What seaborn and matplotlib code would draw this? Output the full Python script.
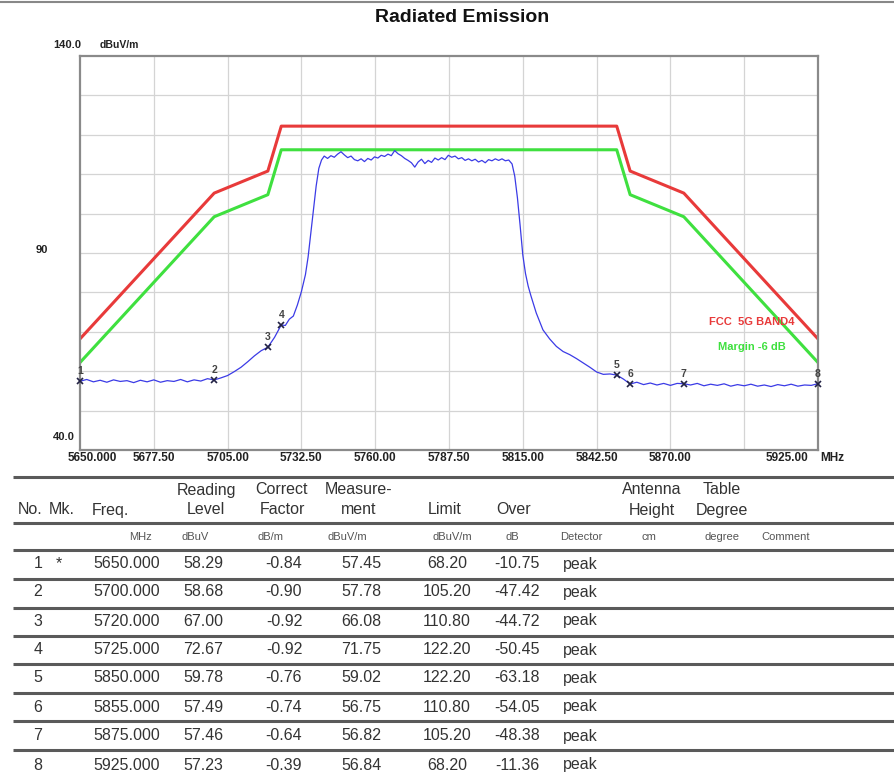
"""Radiated emission plot with marker table."""

import matplotlib
matplotlib.use('Agg')
import matplotlib.pyplot as plt
import seaborn as sns

trace_freq = [5650, 5652.5, 5655, 5657.5, 5660, 5662.5, 5665, 5667.5, 5670, 5672.5,
              5675, 5677.5, 5680, 5682.5, 5685, 5687.5, 5690, 5692.5, 5695, 5697.5,
              5700, 5702.5, 5705, 5707.5, 5710, 5712.5, 5715, 5717.5, 5720, 5722.5,
              5725, 5726.5, 5728, 5729.5, 5731, 5732.5, 5734, 5735, 5736, 5737,
              5738, 5739, 5740,
              5741, 5742.25, 5743.5, 5744.75, 5746, 5747.25, 5748.5, 5749.75, 5751, 5752.25,
              5753.5, 5754.75, 5756, 5757.25, 5758.5, 5759.75, 5761, 5762.25, 5763.5, 5764.75,
              5766, 5767.25, 5768.5, 5769.75, 5771, 5772.25, 5773.5, 5774.75, 5776, 5777.25,
              5778.5, 5779.75, 5781, 5782.25, 5783.5, 5784.75, 5786, 5787.25, 5788.5, 5789.75,
              5791, 5792.25, 5793.5, 5794.75, 5796, 5797.25, 5798.5, 5799.75, 5801, 5802.25,
              5803.5, 5804.75, 5806, 5807.25, 5808.5, 5809.75, 5811,
              5812, 5813, 5814, 5815, 5816, 5817, 5818, 5819, 5820,
              5822.5, 5825, 5827.5, 5830, 5832.5, 5835, 5837.5, 5840, 5842.5, 5845,
              5847.5, 5850, 5852.5, 5855, 5857.5, 5860, 5862.5, 5865, 5867.5, 5870,
              5872.5, 5875, 5877.5, 5880, 5882.5, 5885, 5887.5, 5890, 5892.5, 5895,
              5897.5, 5900, 5902.5, 5905, 5907.5, 5910, 5912.5, 5915, 5917.5, 5920,
              5922.5, 5925]
trace_level = [57.45, 57.9, 57.3, 57.7, 57.2, 57.8, 57.4, 57.6, 57.1, 57.7,
               57.3, 57.8, 57.2, 57.6, 57.4, 57.9, 57.3, 57.8, 57.5, 58.1,
               57.78, 58.3, 58.9, 59.9, 61.0, 62.4, 63.9, 65.2, 66.08, 68.6,
               71.75, 71.6, 73.2, 74.0, 76.8, 80.2, 84.5, 89.0, 95.0, 101.0,
               107.0, 111.5, 113.6,
               114.6, 114.0, 114.7, 114.3, 115.1, 115.7, 114.9, 114.2, 114.6, 113.7,
               113.4, 113.9, 113.2, 114.0, 113.6, 114.4, 114.1, 114.8, 114.5, 115.1,
               114.7, 116.0, 115.2, 114.7, 114.0, 113.5, 112.9, 111.8, 113.1, 113.8,
               112.7, 113.5, 113.0, 114.1, 113.6, 114.2, 113.7, 114.8, 114.3, 114.6,
               113.9, 114.2, 113.5, 113.9, 113.4, 113.8, 113.1, 113.5, 112.9, 113.7,
               113.4, 113.9, 113.5, 113.9, 113.4, 113.6, 112.6,
               109.5, 104.0, 97.0, 89.5, 84.8, 81.6, 79.2, 77.0, 74.8,
               70.5, 68.2, 66.3, 65.0, 64.2, 63.2, 62.1, 61.0, 59.8, 59.2,
               59.3, 59.02, 58.0, 56.75, 57.2, 56.6, 57.0, 56.5, 56.9, 56.4,
               56.9, 56.82, 56.5, 56.9, 56.3, 56.7, 56.4, 56.8, 56.2, 56.6,
               56.3, 56.7, 56.2, 56.5, 56.1, 56.6, 56.3, 56.7, 56.2, 56.5,
               56.4, 56.84]

# --- limit lines ---
limit_freq = [5650, 5700, 5720, 5725, 5850, 5855, 5875, 5925]
limit_level = [68.2, 105.2, 110.8, 122.2, 122.2, 110.8, 105.2, 68.2]
margin_level = [62.2, 99.2, 104.8, 116.2, 116.2, 104.8, 99.2, 62.2]

# --- marker table ---
mk_no = [1, 2, 3, 4, 5, 6, 7, 8]
mk_flag = ['*', '', '', '', '', '', '', '']
mk_freq = [5650.000, 5700.000, 5720.000, 5725.000, 5850.000, 5855.000, 5875.000, 5925.000]
mk_reading = [58.29, 58.68, 67.00, 72.67, 59.78, 57.49, 57.46, 57.23]
mk_factor = [-0.84, -0.90, -0.92, -0.92, -0.76, -0.74, -0.64, -0.39]
mk_meas = [57.45, 57.78, 66.08, 71.75, 59.02, 56.75, 56.82, 56.84]
mk_limit = [68.20, 105.20, 110.80, 122.20, 122.20, 110.80, 105.20, 68.20]
mk_over = [-10.75, -47.42, -44.72, -50.45, -63.18, -54.05, -48.38, -11.36]
mk_detector = ['peak'] * 8

x_ticks = [5650, 5677.5, 5705, 5732.5, 5760, 5787.5, 5815, 5842.5, 5870, 5925]
x_tick_labels = ['5650.000', '5677.50', '5705.00', '5732.50', '5760.00', '5787.50',
                 '5815.00', '5842.50', '5870.00', '5925.00']
headers = [('', 'No.'), ('', 'Mk.'), ('', 'Freq.'), ('Reading', 'Level'),
           ('Correct', 'Factor'), ('Measure-', 'ment'), ('', 'Limit'), ('', 'Over'),
           ('Antenna', 'Height'), ('Table', 'Degree')]
units = ['MHz', 'dBuV', 'dB/m', 'dBuV/m', 'dBuV/m', 'dB', 'Detector', 'cm', 'degree', 'Comment']

sns.set_style('white')
plt.rcParams['font.family'] = ['Liberation Sans', 'DejaVu Sans']

W, H = 894, 774
fig = plt.figure(figsize=(W / 100, H / 100), dpi=100)

# pixel-space overlay for the table and loose labels
ov = fig.add_axes([0, 0, 1, 1])
ov.set_xlim(0, W)
ov.set_ylim(H, 0)
ov.axis('off')

ax = fig.add_axes([80 / W, 1 - 450 / H, 738 / W, 394 / H])
ax.set_xlim(5650, 5925)
ax.set_ylim(40, 140)

# grid
for i in range(1, 10):
    ax.axvline(5650 + i * 27.5, color='#d4d4d4', lw=0.9, zorder=0)
for v in range(50, 140, 10):
    ax.axhline(v, color='#d4d4d4', lw=0.9, zorder=0)

sns.lineplot(x=limit_freq, y=limit_level, ax=ax, color='#e83a3a', lw=2.2, sort=False)
sns.lineplot(x=limit_freq, y=margin_level, ax=ax, color='#3fe03f', lw=2.2, sort=False)
sns.lineplot(x=trace_freq, y=trace_level, ax=ax, color='#3b3be6', lw=0.9, sort=False)

ax.plot(mk_freq, mk_meas, ls='none', marker='x', ms=5, mew=1.2, color='#222244',
        clip_on=False, zorder=5)
for n, f, v in zip(mk_no, mk_freq, mk_meas):
    ax.annotate(str(n), (f, v), xytext=(0, 3.5), textcoords='offset points',
                ha='center', va='bottom', fontsize=7.5, fontweight='bold', color='#444444',
                annotation_clip=False)

ax.text(0.852, 0.325, 'FCC  5G BAND4', transform=ax.transAxes, color='#e83a3a',
        fontsize=8, fontweight='bold', va='center')
ax.text(0.864, 0.262, 'Margin -6 dB', transform=ax.transAxes, color='#3fe03f',
        fontsize=8, fontweight='bold', va='center')

ax.set_xticks([])
ax.set_yticks([])
for s in ax.spines.values():
    s.set_color('#8a8a8a')
    s.set_linewidth(1.6)

# axis labels in pixel space
tick_px = [80 + (t - 5650) * 738 / 275 for t in x_ticks]
lab_kw = dict(va='center', fontsize=8.5, fontweight='bold', color='#222')
for px, lab in zip(tick_px, x_tick_labels):
    if lab == '5650.000':
        ov.text(68, 458, lab, ha='left', **lab_kw)
    elif lab == '5925.00':
        ov.text(808, 458, lab, ha='right', **lab_kw)
    else:
        ov.text(px, 458, lab, ha='center', **lab_kw)
ov.text(820, 458, 'MHz', ha='left', **lab_kw)
ov.text(53, 45, '140.0', ha='left', va='center', fontsize=8, fontweight='bold', color='#222')
ov.text(100, 45, 'dBuV/m', ha='left', va='center', fontsize=7.5, fontweight='bold', color='#222')
ov.text(48, 250, '90', ha='right', va='center', fontsize=8, fontweight='bold', color='#222')
ov.text(53, 437, '40.0', ha='left', va='center', fontsize=8, fontweight='bold', color='#222')

ov.text(462, 18, 'Radiated Emission', ha='center', va='center', fontsize=14,
        fontweight='bold', color='#111')
ov.plot([0, W], [2, 2], color='#888888', lw=1.5)

# table
line_y = [477, 523, 550, 579, 607.5, 636, 664, 692.5, 721, 750]
for y in line_y:
    ov.plot([13, W], [y, y], color='#5a5a5a', lw=2.2, solid_capstyle='butt')

head_x = [30, 62, 110, 206, 282, 359, 445, 514, 652, 722]
for x, (top, bot) in zip(head_x, headers):
    if top:
        ov.text(x, 490, top, ha='center', va='center', fontsize=11.5, color='#333')
    ov.text(x, 510, bot, ha='center', va='center', fontsize=11.5, color='#333')

unit_x = [140, 195, 271, 347, 452, 512, 581, 649, 722, 786]
for x, u in zip(unit_x, units):
    ov.text(x, 537, u, ha='center', va='center', fontsize=8, color='#555')

row_y = [564, 592, 621, 650, 678, 707, 736, 765]
col_x = [38, 59, 127, 203, 284, 361, 447, 517, 580]
for i, y in enumerate(row_y):
    cells = [str(mk_no[i]), mk_flag[i], f'{mk_freq[i]:.3f}', f'{mk_reading[i]:.2f}',
             f'{mk_factor[i]:.2f}', f'{mk_meas[i]:.2f}', f'{mk_limit[i]:.2f}',
             f'{mk_over[i]:.2f}', mk_detector[i]]
    for x, c in zip(col_x, cells):
        ov.text(x, y, c, ha='center', va='center', fontsize=11.5, color='#333')

fig.savefig('out.png', dpi=100)
plt.close()
